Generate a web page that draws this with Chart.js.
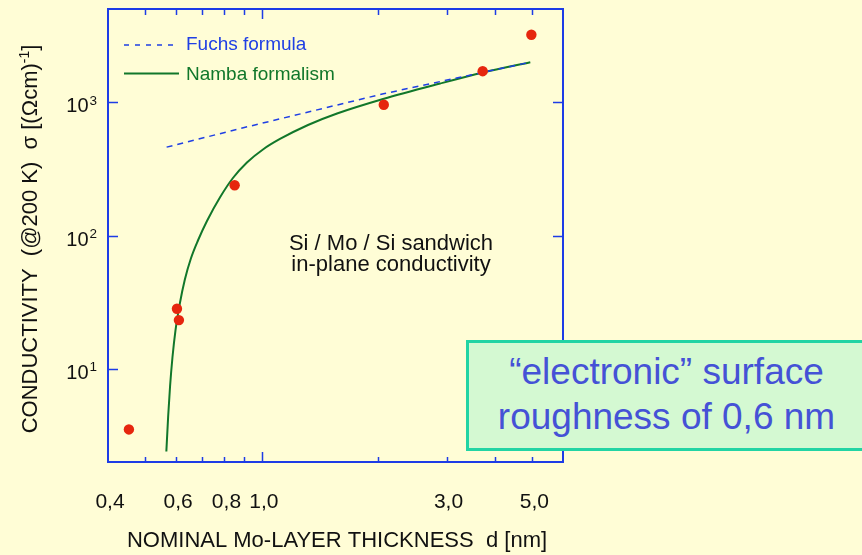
<!DOCTYPE html>
<html>
<head>
<meta charset="utf-8">
<script src="https://cdn.jsdelivr.net/npm/chart.js@4/dist/chart.umd.min.js"></script>
<style>
  html, body { margin: 0; padding: 0; background: #fffdd6; overflow: hidden; }
  #wrap { position: relative; width: 862px; height: 555px; }
  #c { position: absolute; left: 0; top: 0; }
  #note {
    position: absolute; left: 466px; top: 340px; width: 401px; height: 111px;
    box-sizing: border-box; border: 3px solid #22d4a4; background: #d4f9d2;
    color: #4552d6; font: 37px "Liberation Sans", Arial, sans-serif;
    line-height: 45px; text-align: center; padding-top: 6px;
  }
</style>
</head>
<body>
<div id="wrap">
  <canvas id="c" width="862" height="555"></canvas>
  <div id="note">“electronic” surface<br>roughness of 0,6 nm</div>
</div>
<script>
// Measured conductivity of Si/Mo/Si sandwiches (σ at 200 K vs Mo thickness)
const measThickness = [0.453, 0.603, 0.610, 0.850, 2.065, 3.72, 4.97];
const measSigma     = [3.51, 28.2, 23.2, 238, 956, 1708, 3203];

// Fuchs formula
const fuchsThickness = [0.567, 0.895, 2.06, 4.94];
const fuchsSigma     = [460, 643, 1156, 1996];

// Namba formalism
const nambaThickness = [0.5661, 0.5722, 0.5787, 0.5870, 0.5976, 0.6134, 0.6320, 0.6551, 0.6832, 0.7209, 0.7786, 0.8414, 0.9145, 1.006, 1.1132, 1.3153, 1.5635, 2.0567, 2.8882, 3.7327, 4.9389];
const nambaSigma     = [2.397, 4.387, 7.366, 12.16, 19.38, 30.90, 46.77, 67.22, 91.73, 128.5, 192.8, 270.0, 352.9, 441.9, 529.6, 674.5, 822.6, 1056.8, 1381, 1670, 1996];

// Axis ticks and labels
const xLabelValues = [0.4, 0.6, 0.8, 1.0, 3.0, 5.0];
const xLabels      = ['0,4', '0,6', '0,8', '1,0', '3,0', '5,0'];
const xMinorTicks  = [0.5, 0.6, 0.7, 0.8, 0.9, 2, 3, 4, 5];
const xMajorTicks  = [1];
const yTickValues  = [10, 100, 1000];
const yTickExps    = ['1', '2', '3'];

const FONT = '"Liberation Sans", Arial, Helvetica, sans-serif';
const AXIS_BLUE = '#1d3ce6';
const LINE_BLUE = '#1f3fe4';
const GREEN = '#11772a';
const RED = '#e6260e';

const pairs = (xs, ys) => xs.map((v, i) => ({ x: v, y: ys[i] }));

const framePlugin = {
  id: 'frame',
  afterDatasetsDraw(chart) {
    const { ctx, chartArea: a, scales: { x, y } } = chart;
    ctx.save();

    // frame
    ctx.strokeStyle = AXIS_BLUE;
    ctx.lineWidth = 2;
    ctx.strokeRect(a.left, a.top, a.right - a.left, a.bottom - a.top);

    // inward ticks
    ctx.lineWidth = 1.5;
    ctx.beginPath();
    xMinorTicks.forEach(v => {
      const px = Math.round(x.getPixelForValue(v)) + 0.5;
      ctx.moveTo(px, a.bottom); ctx.lineTo(px, a.bottom - 5);
      ctx.moveTo(px, a.top); ctx.lineTo(px, a.top + 6);
    });
    xMajorTicks.forEach(v => {
      const px = Math.round(x.getPixelForValue(v)) + 0.5;
      ctx.moveTo(px, a.bottom); ctx.lineTo(px, a.bottom - 10);
      ctx.moveTo(px, a.top); ctx.lineTo(px, a.top + 10);
    });
    yTickValues.forEach(v => {
      const py = Math.round(y.getPixelForValue(v)) + 0.5;
      ctx.moveTo(a.left, py); ctx.lineTo(a.left + 10, py);
      ctx.moveTo(a.right, py); ctx.lineTo(a.right - 10, py);
    });
    ctx.stroke();

    // x tick labels
    ctx.fillStyle = '#111';
    ctx.font = '21px ' + FONT;
    ctx.textAlign = 'center';
    ctx.textBaseline = 'alphabetic';
    xLabelValues.forEach((v, i) => {
      ctx.fillText(xLabels[i], x.getPixelForValue(v) + 2, 507.5);
    });

    // y tick labels (10 with superscript exponent)
    yTickValues.forEach((v, i) => {
      const py = y.getPixelForValue(v);
      ctx.font = '20px ' + FONT;
      ctx.textAlign = 'right';
      ctx.fillText('10', 88.5, py + 10);
      ctx.font = '13.5px ' + FONT;
      ctx.textAlign = 'left';
      ctx.fillText(yTickExps[i], 89.5, py + 2.5);
    });

    // x axis title
    ctx.font = '22px ' + FONT;
    ctx.textAlign = 'center';
    ctx.fillText('NOMINAL Mo-LAYER THICKNESS  d [nm]', 337, 546.5);

    // y axis title, rotated, with superscript
    const parts = [
      { t: 'CONDUCTIVITY  (@200 K)  σ [(Ωcm)', f: '22px ' + FONT, dy: 0 },
      { t: '-1', f: '14px ' + FONT, dy: -8 },
      { t: ']', f: '22px ' + FONT, dy: 0 }
    ];
    ctx.save();
    ctx.translate(37, 239);
    ctx.rotate(-Math.PI / 2);
    ctx.textAlign = 'left';
    let total = 0;
    parts.forEach(p => { ctx.font = p.f; p.w = ctx.measureText(p.t).width; total += p.w; });
    let cx = -total / 2;
    parts.forEach(p => { ctx.font = p.f; ctx.fillText(p.t, cx, p.dy); cx += p.w; });
    ctx.restore();

    // legend
    ctx.lineWidth = 1.5;
    ctx.strokeStyle = LINE_BLUE;
    ctx.setLineDash([5, 6]);
    ctx.beginPath(); ctx.moveTo(124, 45); ctx.lineTo(179, 45); ctx.stroke();
    ctx.setLineDash([]);
    ctx.strokeStyle = GREEN;
    ctx.lineWidth = 2;
    ctx.beginPath(); ctx.moveTo(124, 73.5); ctx.lineTo(179, 73.5); ctx.stroke();
    ctx.font = '19px ' + FONT;
    ctx.textAlign = 'left';
    ctx.fillStyle = LINE_BLUE;
    ctx.fillText('Fuchs formula', 186, 50);
    ctx.fillStyle = GREEN;
    ctx.fillText('Namba formalism', 186, 80);

    // in-plot annotation
    ctx.fillStyle = '#111';
    ctx.font = '22px ' + FONT;
    ctx.textAlign = 'center';
    ctx.fillText('Si / Mo / Si sandwich', 391, 249.5);
    ctx.fillText('in-plane conductivity', 391, 270.5);

    ctx.restore();
  }
};

new Chart(document.getElementById('c'), {
  type: 'scatter',
  data: {
    datasets: [
      {
        label: 'measured',
        data: pairs(measThickness, measSigma),
        showLine: false,
        pointRadius: 5.2,
        pointBackgroundColor: RED,
        pointBorderWidth: 0,
        borderColor: RED
      },
      {
        label: 'Fuchs formula',
        data: pairs(fuchsThickness, fuchsSigma),
        showLine: true,
        pointRadius: 0,
        borderColor: LINE_BLUE,
        borderWidth: 1.5,
        borderDash: [6, 5],
        tension: 0
      },
      {
        label: 'Namba formalism',
        data: pairs(nambaThickness, nambaSigma),
        showLine: true,
        pointRadius: 0,
        borderColor: GREEN,
        borderWidth: 2,
        cubicInterpolationMode: 'monotone'
      }
    ]
  },
  options: {
    responsive: false,
    animation: false,
    devicePixelRatio: 1,
    layout: { padding: { left: 108, top: 9, right: 299, bottom: 93 } },
    plugins: { legend: { display: false }, tooltip: { enabled: false } },
    scales: {
      x: { type: 'logarithmic', min: 0.4, max: 6, display: false },
      y: { type: 'logarithmic', min: 2, max: 5000, display: false }
    }
  },
  plugins: [framePlugin]
});
</script>
</body>
</html>
